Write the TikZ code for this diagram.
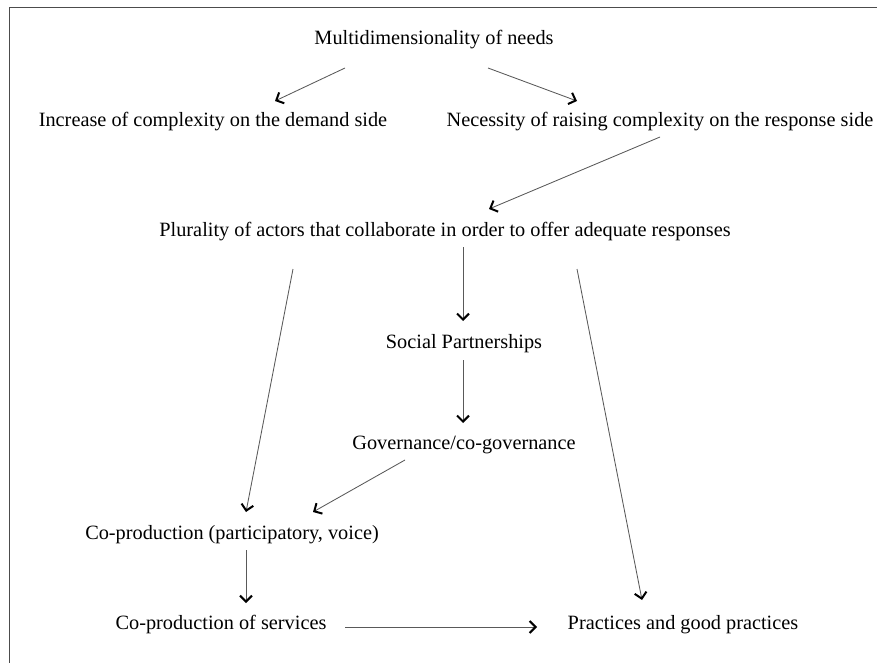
\documentclass[tikz,border=0pt]{standalone}
\usepackage{fontspec}
\setmainfont{Liberation Serif}
\usepackage{tikz}
\usetikzlibrary{arrows.meta,positioning}
\tikzstyle{stage} = [inner sep=0pt, text=black, font=\fontsize{20.3}{24}\selectfont]
\tikzstyle{flow}  = [draw=black!65, line width=0.85pt, -{Straight Barb[length=6pt,width=12pt,line width=2pt,color=black]}]
\tikzstyle{frame} = [draw=black!70, line width=1pt]

\begin{document}
\begin{tikzpicture}[x=1pt, y=-1pt]

\useasboundingbox (0,0) rectangle (877,663);
\path[frame] (9,663) |- (877,8);

% statements =============================

% needs and complexity
\node[stage] (needs) at (434,40) {Multidimensionality of needs};
\node[stage] (demand) at (213,122) {Increase of complexity on the demand side};
\node[stage] (response) at (660,122) {Necessity of raising complexity on the response side};

% actors
\node[stage] (actors) at (445,232) {Plurality of actors that collaborate in order to offer adequate responses};
\node[stage] (partner) at (464,344) {Social Partnerships};
\node[stage] (govern) at (464,445) {Governance/co-governance};

% co-production
\node[stage] (coprod) at (232,535) {Co-production (participatory, voice)};
\node[stage] (services) at (221,625) {Co-production of services};
\node[stage] (practices) at (683,625) {Practices and good practices};

%edges
\path[flow] ([shift={(-89,28)}]needs.center) -- ([shift={(62,-21)}]demand.center);
\path[flow] ([shift={(54,28)}]needs.center) -- ([shift={(-83,-21)}]response.center);
\path[flow] ([shift={(0,15)}]response.center) -- ([shift={(44,-23)}]actors.center);

\path[flow] ([shift={(18,15)}]actors.center) -- ([shift={(-1,-23)}]partner.center);
\path[flow] ([shift={(-152,37)}]actors.center) -- ([shift={(14,-23)}]coprod.center);
\path[flow] ([shift={(132,37)}]actors.center) -- ([shift={(-41,-25)}]practices.center);
\path[flow] ([shift={(-1,16)}]partner.center) -- ([shift={(-1,-22)}]govern.center);
\path[flow] ([shift={(-59,15)}]govern.center) -- ([shift={(81,-23)}]coprod.center);

\path[flow] ([shift={(14,15)}]coprod.center) -- ([shift={(25,-22)}]services.center);
\path[flow] ([shift={(124,2)}]services.center) -- ([shift={(-146,2)}]practices.center);

\end{tikzpicture}
\end{document}
